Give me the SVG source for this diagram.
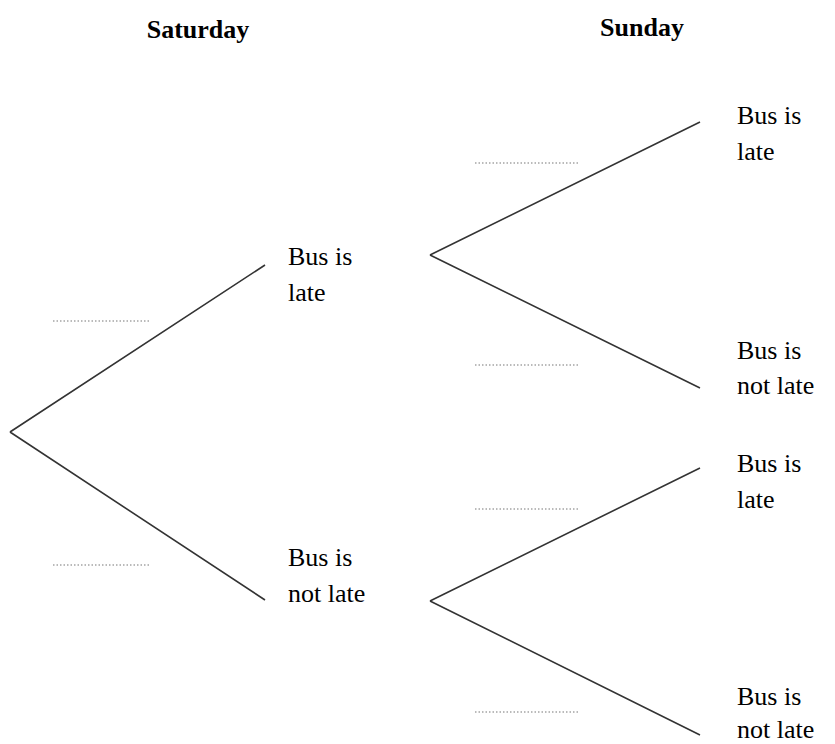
<svg xmlns="http://www.w3.org/2000/svg" width="835" height="744" viewBox="0 0 835 744">
<style>
text{font-size:26px;fill:#000}
.h{font-weight:bold;text-anchor:middle}
.b{stroke:#333;stroke-width:1.6;fill:none}
.d{stroke:#777;stroke-width:1.2;stroke-dasharray:1.5 2}
</style>
<rect width="835" height="744" fill="#fff"/>
<g font-family="'Liberation Serif', 'DejaVu Serif', serif">
<text class="h" x="198" y="38">Saturday</text>
<text class="h" x="642" y="36">Sunday</text>
<g id="connectors">
<path class="b" d="M10 432L265 265M10 432L265 600M430 255L700 122M430 255L700 388M430 601L700 468M430 601L700 735"/>
<path class="d" d="M53 321H150M53 565H150M475 163H578M475 365H578M475 509H578M475 712H578"/>
</g>
<g id="sat-late"><text x="288" y="265">Bus is</text><text x="288" y="301">late</text></g>
<g id="sat-notlate"><text x="288" y="566">Bus is</text><text x="288" y="602">not late</text></g>
<g id="sun1"><text x="737" y="124">Bus is</text><text x="737" y="160">late</text></g>
<g id="sun2"><text x="737" y="359">Bus is</text><text x="737" y="394">not late</text></g>
<g id="sun3"><text x="737" y="472">Bus is</text><text x="737" y="508">late</text></g>
<g id="sun4"><text x="737" y="705">Bus is</text><text x="737" y="738">not late</text></g>
</g>
</svg>
